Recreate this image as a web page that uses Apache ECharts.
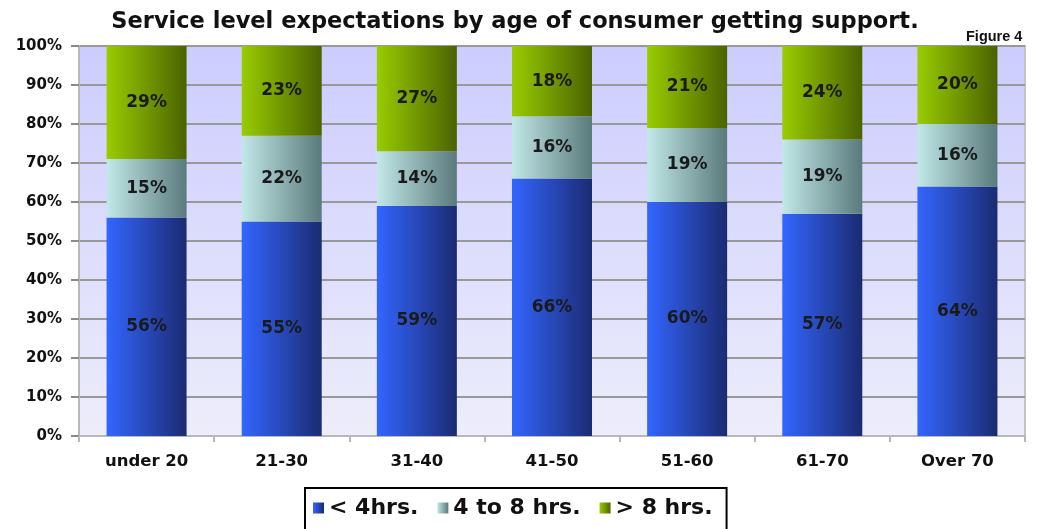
<!DOCTYPE html>
<html>
<head>
<meta charset="utf-8">
<script src="https://cdn.jsdelivr.net/npm/echarts@6/dist/echarts.min.js"></script>
<style>html,body{margin:0;padding:0;background:#fff;}#c{width:1043px;height:529px;}</style>
</head>
<body>
<div id="c"></div>
<script>
const categories = ['under 20', '21-30', '31-40', '41-50', '51-60', '61-70', 'Over 70'];
const seriesNames = ['< 4hrs.', '4 to 8 hrs.', '> 8 hrs.'];
const under4 = [56, 55, 59, 66, 60, 57, 64];
const from4to8 = [15, 22, 14, 16, 19, 19, 16];
const over8 = [29, 23, 27, 18, 21, 24, 20];
const yTicks = [0, 10, 20, 30, 40, 50, 60, 70, 80, 90, 100];

const chart = echarts.init(document.getElementById('c'), null, {renderer: 'canvas'});
function hgrad(a, b) {
  return new echarts.graphic.LinearGradient(0, 0, 1, 0, [{offset: 0, color: a}, {offset: 1, color: b}]);
}
const colors = [hgrad('#3366ff', '#1b2b72'), hgrad('#c2e8e8', '#5a7a7c'), hgrad('#99cc00', '#4a6300')];
const dataSets = [under4, from4to8, over8];
const labelStyle = {show: true, position: 'inside', color: '#1a1a1a', fontSize: 17, fontWeight: 'bold',
  fontFamily: 'DejaVu Sans', formatter: p => p.value + '%'};

chart.setOption({
  animation: false,
  title: [{
    text: 'Service level expectations by age of consumer getting support.',
    left: 510, top: 6, textAlign: 'center',
    textStyle: {fontSize: 22.5, fontWeight: 'bold', color: '#111', fontFamily: 'DejaVu Sans'}
  }, {
    text: 'Figure 4', left: 961, top: 24,
    textStyle: {fontSize: 14.5, fontWeight: 'bold', color: '#111', fontFamily: 'Liberation Sans'}
  }],
  grid: {
    left: 79, right: 18, top: 46, bottom: 93, show: true,
    backgroundColor: new echarts.graphic.LinearGradient(0, 0, 0, 1, [{offset: 0, color: '#ccccff'}, {offset: 1, color: '#ededfb'}]),
    borderColor: '#c4c4c4', borderWidth: 2
  },
  legend: {
    data: seriesNames, bottom: -6, left: 305,
    icon: 'rect', itemWidth: 11, itemHeight: 11, itemGap: 19,
    borderColor: '#000', borderWidth: 2, padding: [9, 14, 16, 8],
    textStyle: {fontSize: 22, fontWeight: 'bold', color: '#111', fontFamily: 'DejaVu Sans'}
  },
  xAxis: {
    type: 'category', data: categories,
    axisLine: {lineStyle: {color: '#b8b8b8', width: 2}},
    axisTick: {show: true, length: 6, lineStyle: {color: '#b8b8b8', width: 2}},
    axisLabel: {margin: 17, fontSize: 16.5, fontWeight: 'bold', color: '#111', fontFamily: 'DejaVu Sans'}
  },
  yAxis: {
    type: 'value', min: 0, max: 100, interval: 10,
    axisLine: {show: true, lineStyle: {color: '#b8b8b8', width: 2}},
    axisTick: {show: true, length: 8, lineStyle: {color: '#8a8a8a', width: 2}},
    splitLine: {lineStyle: {color: '#999', width: 2}},
    axisLabel: {margin: 17, fontSize: 15, fontWeight: 'bold', color: '#111', fontFamily: 'DejaVu Sans',
      formatter: v => yTicks.includes(v) ? v + '%' : ''}
  },
  series: seriesNames.map((n, i) => ({
    name: n, type: 'bar', stack: 'total', barWidth: 80,
    itemStyle: {color: colors[i]},
    label: labelStyle,
    data: dataSets[i]
  }))
});
</script>
</body>
</html>
